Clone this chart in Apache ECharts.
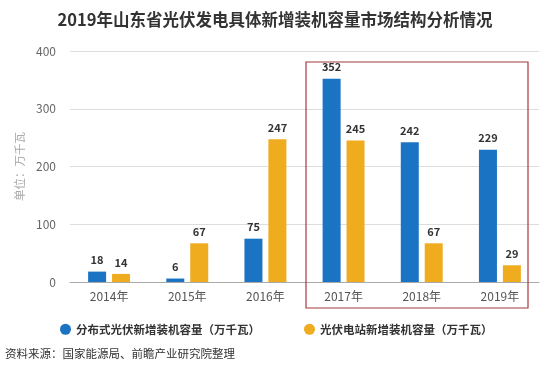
<!DOCTYPE html>
<html><head><meta charset="utf-8">
<script src="https://cdn.jsdelivr.net/npm/echarts@6/dist/echarts.min.js"></script>
<style>html,body{margin:0;padding:0;background:#fff}#c{width:550px;height:380px}</style>
</head><body><div id="c"></div>
<script>
const categories = ['2014年','2015年','2016年','2017年','2018年','2019年'];
const distributed = [18, 6, 75, 352, 242, 229];
const station = [14, 67, 247, 245, 67, 29];
const seriesNames = ['分布式光伏新增装机容量（万千瓦）','光伏电站新增装机容量（万千瓦）'];
const yTicks = [0, 100, 200, 300, 400];

const chart = echarts.init(document.getElementById('c'));
const font = '"Noto Sans CJK SC", "Noto Sans", sans-serif';
const labelStyle = {show:true, position:'top', color:'#333', fontWeight:'bold', fontSize:11, fontFamily:font, distance:6};
chart.setOption({
  animation:false,
  textStyle:{fontFamily:font},
  title:{text:'2019年山东省光伏发电具体新增装机容量市场结构分析情况', left:'center', top:6,
    textStyle:{fontSize:16.5, fontWeight:'bold', color:'#333', fontFamily:font}},
  legend:{bottom:40, left:55, itemGap:44, icon:'circle', itemWidth:11, itemHeight:11,
    textStyle:{fontSize:11.5, fontWeight:'bold', color:'#333', fontFamily:font}},
  grid:{left:70, right:11, top:51, bottom:98},
  xAxis:{type:'category', data:categories,
    axisLine:{lineStyle:{color:'#aaa'}}, axisTick:{alignWithLabel:true, lineStyle:{color:'#aaa'}},
    axisLabel:{color:'#555', fontSize:12, margin:8}},
  yAxis:{type:'value', min:yTicks[0], max:yTicks[yTicks.length-1], interval:100,
    name:'单位：万千瓦', nameLocation:'middle', nameGap:36, nameRotate:90,
    nameTextStyle:{color:'#aaa', fontSize:11.5},
    axisLine:{show:false}, axisTick:{show:false},
    axisLabel:{color:'#666', fontSize:12, margin:14},
    splitLine:{lineStyle:{color:'#ddd'}}},
  series:[
    {name:seriesNames[0], type:'bar', data:distributed, barWidth:18, barGap:'33%',
     itemStyle:{color:'#1b73c3'}, label:labelStyle},
    {name:seriesNames[1], type:'bar', data:station, barWidth:18,
     itemStyle:{color:'#f0ac1f'}, label:labelStyle}
  ],
  graphic:[
    {type:'rect', shape:{x:306, y:62, width:222, height:246}, style:{fill:'none', stroke:'#a33a3f', lineWidth:1.2}, z:100},
    {type:'text', left:5, top:348, style:{text:'资料来源：国家能源局、前瞻产业研究院整理', fontSize:11.5, fill:'#333', fontFamily:font}}
  ]
});
</script></body></html>
